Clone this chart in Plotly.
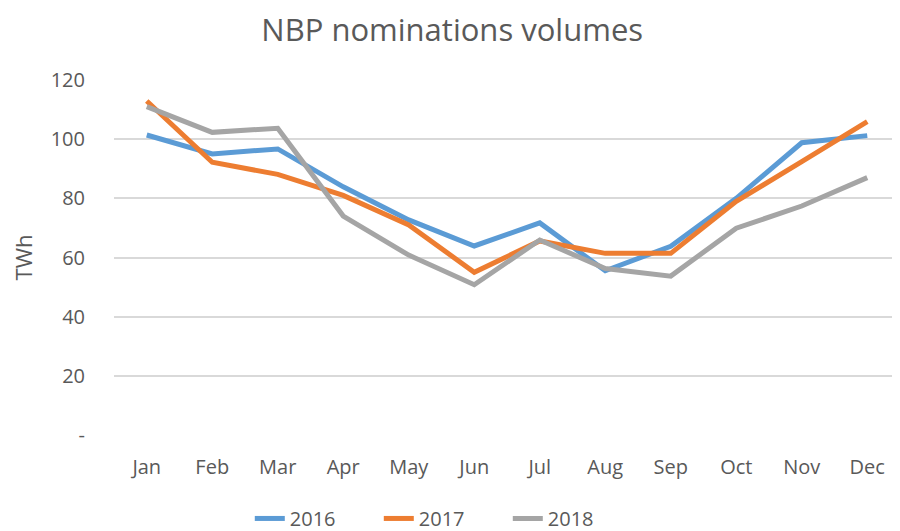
import plotly.graph_objects as go

months = ["Jan", "Feb", "Mar", "Apr", "May", "Jun", "Jul", "Aug", "Sep", "Oct", "Nov", "Dec"]
v2016 = [101.4, 95.0, 96.7, 83.9, 72.7, 63.9, 71.7, 55.5, 63.8, 80.0, 98.8, 101.2]
v2017 = [112.9, 92.2, 88.1, 81.0, 71.0, 55.0, 65.6, 61.4, 61.4, 79.0, 92.4, 105.9]
v2018 = [111.0, 102.3, 103.7, 74.0, 60.8, 50.8, 65.9, 56.3, 53.7, 69.9, 77.4, 87.0]
tick_vals = [0, 20, 40, 60, 80, 100, 120]
tick_text = ["-", "20", "40", "60", "80", "100", "120"]

series = [("2016", v2016, "#5B9BD5"), ("2017", v2017, "#ED7D31"), ("2018", v2018, "#A5A5A5")]

fig = go.Figure()
for name, vals, color in series:
    fig.add_trace(go.Scatter(x=months, y=vals, name=name, mode="lines",
                             line=dict(color=color, width=5)))

font = "Open Sans, Liberation Sans, sans-serif"
fig.update_layout(
    width=892, height=523,
    paper_bgcolor="white", plot_bgcolor="white",
    margin=dict(l=106, r=0, t=72, b=96, autoexpand=False),
    title=dict(text="NBP nominations volumes", x=0.498, xanchor="center", y=0.957, yanchor="middle",
               font=dict(family=font, size=31, color="#595959")),
    font=dict(family=font, color="#595959"),
    showlegend=True,
    legend=dict(orientation="h", xref="container", yref="container",
                x=0.488, xanchor="center", y=0.024, yanchor="middle",
                font=dict(size=20, color="#595959"), entrywidth=84, tracegroupgap=0),
    xaxis=dict(type="category", range=[-0.5, 11.5], showgrid=False, showline=False,
               ticks="", tickfont=dict(size=20, color="#595959"), ticklabelstandoff=18),
    yaxis=dict(range=[0, 120], tickvals=tick_vals, ticktext=tick_text,
               showgrid=True, gridcolor="#D9D9D9", gridwidth=1.5, zeroline=False,
               showline=False, ticks="", ticklabelstandoff=28,
               tickfont=dict(size=20, color="#595959"),
               title=dict(text="TWh", font=dict(size=22, color="#595959"), standoff=19)),
)
fig.write_html("out.html")
